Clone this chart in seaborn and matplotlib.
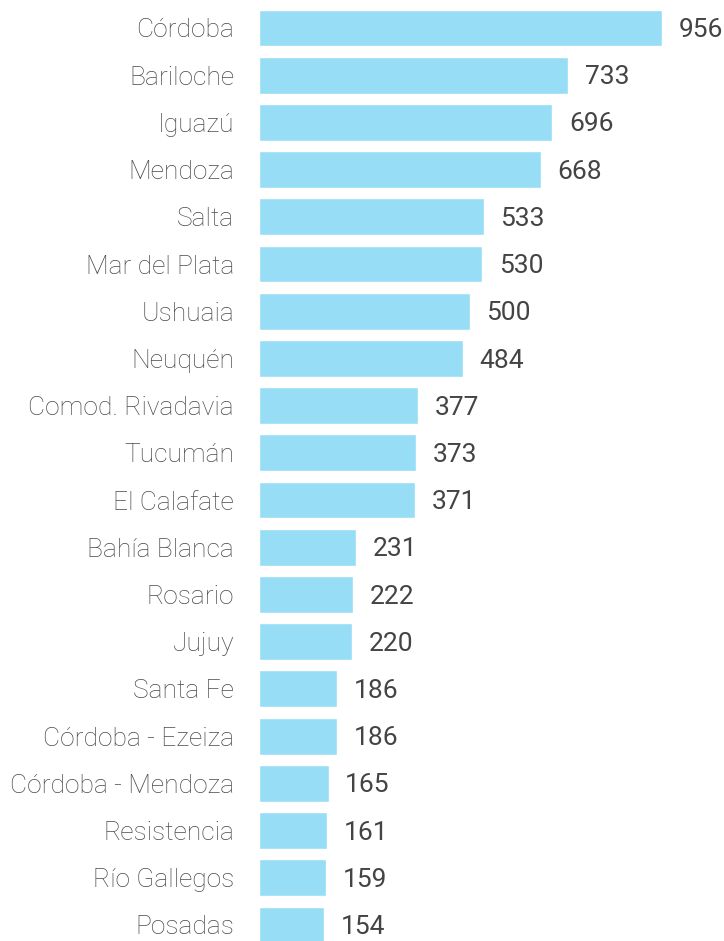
import numpy as np
import pandas as pd
import seaborn as sns
import matplotlib.pyplot as plt

sns.set_style("white")
plt.rcParams['font.family'] = ['Roboto', 'DejaVu Sans']

ciudades = ["Córdoba", "Bariloche", "Iguazú", "Mendoza", "Salta", "Mar del Plata",
            "Ushuaia", "Neuquén", "Comod. Rivadavia", "Tucumán", "El Calafate",
            "Bahía Blanca", "Rosario", "Jujuy", "Santa Fe", "Córdoba - Ezeiza",
            "Córdoba - Mendoza", "Resistencia", "Río Gallegos", "Posadas"]
valores = [956, 733, 696, 668, 533, 530, 500, 484, 377, 373, 371,
           231, 222, 220, 186, 186, 165, 161, 159, 154]

df = pd.DataFrame({"ciudad": ciudades, "valor": valores})

fig = plt.figure(figsize=(7.24, 9.41), dpi=100)
ax = fig.add_axes([259 / 724, 0, 1 - 259 / 724, 1])

sns.barplot(data=df, x="valor", y="ciudad", color="#97ddf6", saturation=1,
            width=0.78, ax=ax)

ax.set_xlim(0, 956 * (724 - 259) / (662 - 259))
ax.set_ylim(19.34, -0.593)
ax.set_xlabel("")
ax.set_ylabel("")
ax.set_xticks([])
ax.tick_params(axis="y", length=0, pad=18)
for lbl in ax.get_yticklabels():
    lbl.set_fontsize(19)
    lbl.set_fontweight("light")
    lbl.set_color("#4a4a4a")
sns.despine(ax=ax, left=True, bottom=True)

for i, v in enumerate(valores):
    ax.annotate(str(v), xy=(v, i), xytext=(12, -1.5), textcoords="offset points",
                va="center", ha="left", fontsize=19, color="#444444")

fig.savefig("out.png", dpi=100)
